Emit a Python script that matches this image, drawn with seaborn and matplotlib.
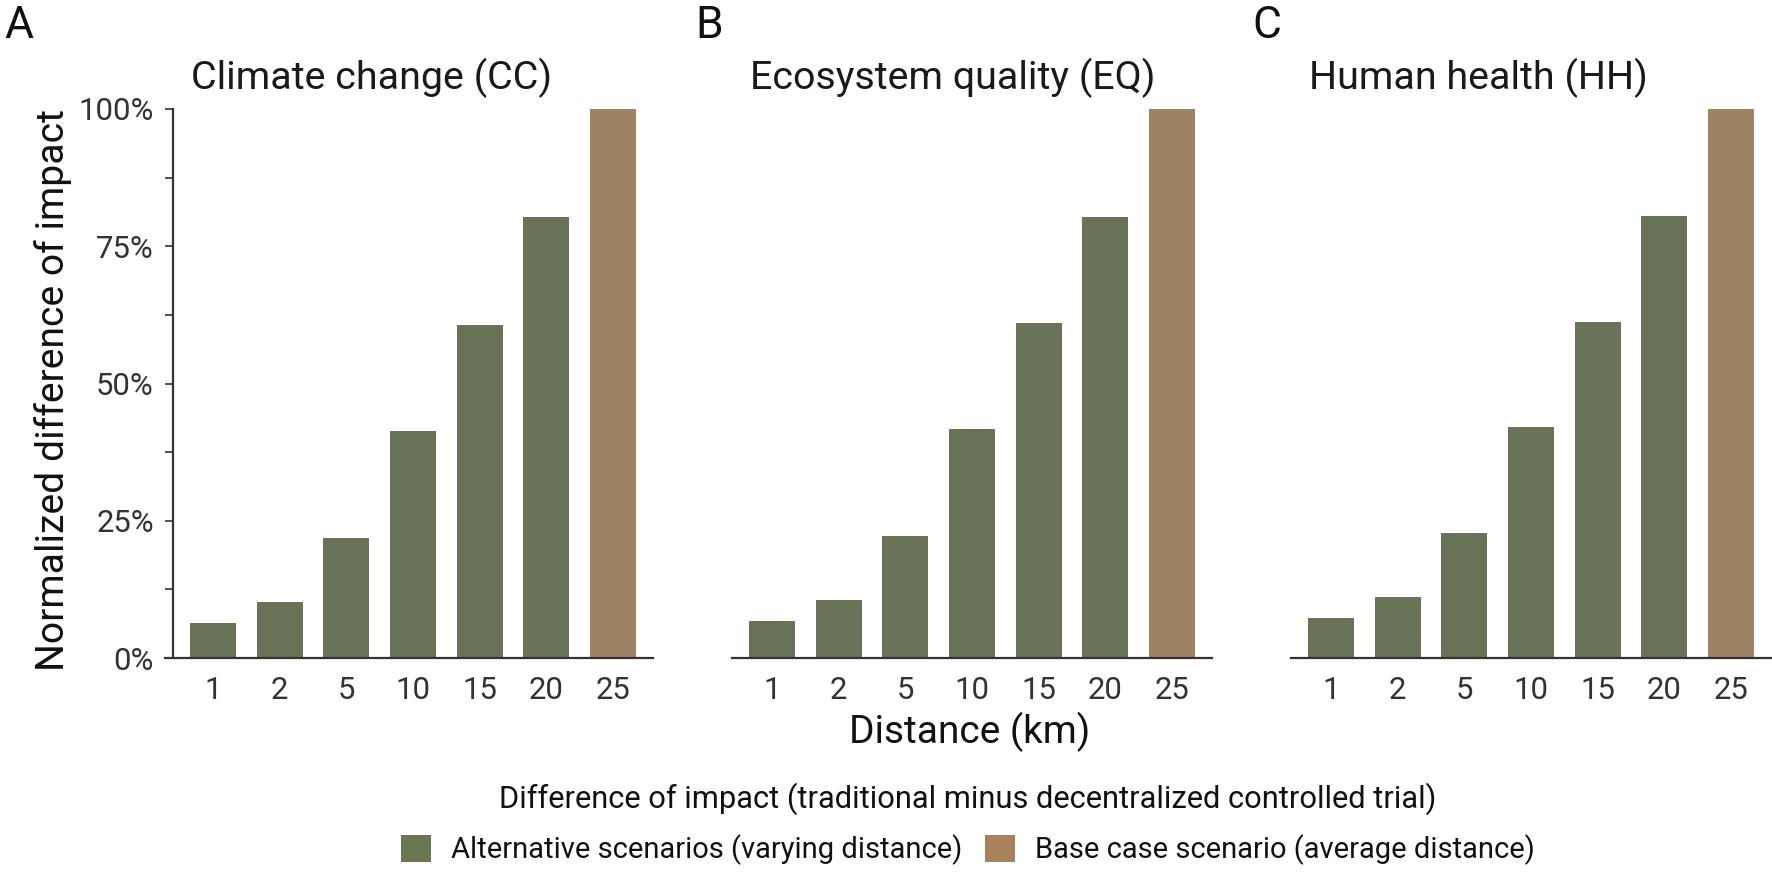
import pandas as pd
import matplotlib.pyplot as plt
import seaborn as sns
from matplotlib.patches import Patch
from matplotlib.ticker import FixedLocator, PercentFormatter

sns.set_theme(style="white")
plt.rcParams['font.family'] = ['Roboto', 'DejaVu Sans']

# values (share of the base case, in %)
distances = ['1', '2', '5', '10', '15', '20', '25']
cc_values = [6.3, 10.2, 21.9, 41.3, 60.7, 80.3, 100]
eq_values = [6.7, 10.6, 22.2, 41.7, 61.0, 80.3, 100]
hh_values = [7.3, 11.1, 22.7, 42.0, 61.2, 80.5, 100]
panel_titles = ['Climate change (CC)', 'Ecosystem quality (EQ)', 'Human health (HH)']
panel_tags = ['A', 'B', 'C']
scenario = ['Alternative'] * 6 + ['Base']

green = '#697852'
brown = '#a8825a'
colors = {'Alternative': green, 'Base': brown}
dark = '#1a1a1a'

rows = []
for title, vals in zip(panel_titles, [cc_values, eq_values, hh_values]):
    for d, v, s in zip(distances, vals, scenario):
        rows.append({'panel': title, 'distance': d, 'value': v / 100, 'scenario': s})
df = pd.DataFrame(rows)

fig = plt.figure(figsize=(8.86, 4.365), dpi=200)
W, H = 1772, 873
lefts = [173, 732, 1291]
ax_w = 480
bottom, top = 658, 109

for i, title in enumerate(panel_titles):
    ax = fig.add_axes([lefts[i] / W, (H - bottom) / H, ax_w / W, (bottom - top) / H])
    sub = df[df['panel'] == title]
    sns.barplot(data=sub, x='distance', y='value', hue='scenario', palette=colors,
                order=distances, dodge=False, width=0.69, linewidth=0,
                legend=False, ax=ax)
    ax.set_xlim(-0.6, 6.6)
    ax.set_ylim(0, 1)
    ax.set_xlabel('')
    ax.set_ylabel('')
    for side in ['top', 'right']:
        ax.spines[side].set_visible(False)
    ax.spines['bottom'].set_color('#333333')
    ax.spines['bottom'].set_linewidth(0.8)
    ax.tick_params(axis='x', length=0, pad=6.5, labelsize=11.2, labelcolor='#333333')
    ax.text(18 / ax_w, 1 + 20 / (bottom - top), title, transform=ax.transAxes,
            ha='left', va='baseline', fontsize=14.2, color=dark)
    if i == 0:
        ax.spines['left'].set_color('#333333')
        ax.spines['left'].set_linewidth(0.8)
        ax.spines['bottom'].set_bounds(-0.6 - 8 / 66.7, 6.6)
        ax.yaxis.set_major_locator(FixedLocator([0, 0.25, 0.5, 0.75, 1.0]))
        ax.yaxis.set_minor_locator(FixedLocator([0.125, 0.375, 0.625, 0.875]))
        ax.yaxis.set_major_formatter(PercentFormatter(1.0, decimals=0))
        ax.tick_params(axis='y', which='both', left=True, length=2.9, width=0.6,
                       color='#333333', pad=4, labelsize=11.2, labelcolor='#333333')
    else:
        ax.spines['left'].set_visible(False)
        ax.set_yticks([])

# panel tags
tag_x = [4, 695, 1252]
for t, x in zip(panel_tags, tag_x):
    fig.text(x / W, 1 - 38 / H, t, ha='left', va='baseline', fontsize=16, color='#111111')

fig.text(53 / W, 1 - 390 / H, 'Normalized difference of impact', rotation=90,
         ha='center', va='center', fontsize=14.1, color='#111111')
fig.text(970 / W, 1 - 743 / H, 'Distance (km)', ha='center', va='baseline',
         fontsize=14, color='#111111')

fig.text(968 / W, 1 - 808 / H,
         'Difference of impact (traditional minus decentralized controlled trial)',
         ha='center', va='baseline', fontsize=11.1, color='#111111')
handles = [Patch(facecolor=green, edgecolor='none', label='Alternative scenarios (varying distance)'),
           Patch(facecolor=brown, edgecolor='none', label='Base case scenario (average distance)')]
fig.legend(handles=handles, loc='center', bbox_to_anchor=(968 / W, 1 - 850 / H), ncol=2,
           frameon=False, fontsize=10.5, handlelength=1.03, handleheight=1.03,
           handletextpad=0.7, columnspacing=0.75, borderpad=0, labelcolor='#111111')

fig.savefig('out.png', dpi=200, facecolor='white')
